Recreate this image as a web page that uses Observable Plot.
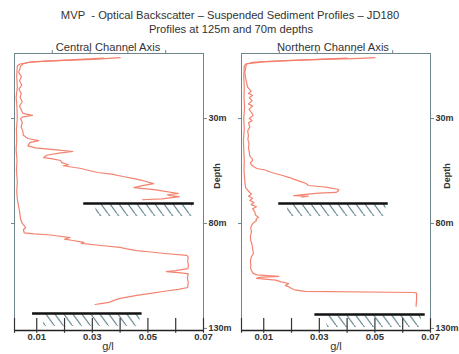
<!DOCTYPE html>
<html>
<head>
<meta charset="utf-8">
<script src="https://cdn.jsdelivr.net/npm/d3@7"></script>
<script src="https://cdn.jsdelivr.net/npm/@observablehq/plot@0.6"></script>
<style>
  html, body { margin: 0; padding: 0; background: #fff; }
  #wrap { position: relative; width: 459px; height: 354px; overflow: hidden; font-family: "Liberation Sans", Arial, sans-serif; color: #333; }
  .t { position: absolute; white-space: nowrap; transform: translate(-50%, -50%); font-size: 11.2px; }
  .depth { position: absolute; white-space: nowrap; font-size: 9px; font-weight: bold; transform: translate(-50%, -50%) rotate(-90deg); }
  .panel { position: absolute; top: 40px; }
</style>
</head>
<body>
<div id="wrap">
  <div class="t" style="left:230px;top:15px;">MVP&nbsp; - Optical Backscatter – Suspended Sediment Profiles – JD180</div>
  <div class="t" style="left:231px;top:29px;">Profiles at 125m and 70m depths</div>
  <div class="t" style="left:108px;top:47px;">Central Channel Axis</div>
  <div class="t" style="left:333px;top:47px;">Northern Channel Axis</div>
  <div class="depth" style="left:217px;top:176px;">Depth</div>
  <div class="depth" style="left:447px;top:176px;">Depth</div>
  <div class="t" style="left:108px;top:346px;font-size:11px;">g/l</div>
  <div class="t" style="left:336px;top:346px;font-size:11px;">g/l</div>
  <div id="p1" class="panel" style="left:0px;"></div>
  <div id="p2" class="panel" style="left:228px;"></div>
</div>
<script>
// ---- data: [depth (m), concentration (g/l)] ----
const centralProfile70 = [
  [1.0,0.040],[1.3,0.036],[1.8,0.030],[2.3,0.020],[2.8,0.012],[3.3,0.007],[4,0.005],[5,0.0042],
  [6,0.004],[8,0.0035],[10,0.0045],[12,0.0038],[14,0.0046],[16,0.0036],[18,0.0044],[20,0.004],
  [22,0.0048],[24,0.0038],[26,0.0045],[27.5,0.005],[28.5,0.0085],[29.2,0.005],[30,0.0042],[32,0.0048],
  [34,0.0044],[36,0.005],[38,0.0052],[39.5,0.0068],[40.5,0.0107],[41.5,0.0075],[43,0.0068],[44,0.0095],
  [45,0.018],[45.7,0.023],[46.5,0.018],[47.5,0.0135],[48.6,0.0125],[49.2,0.0157],[50,0.0186],[51,0.019],
  [52,0.0215],[52.5,0.0195],[53.8,0.026],[54.5,0.028],[55.7,0.032],[56.5,0.037],[57.6,0.041],[58.6,0.045],
  [59.5,0.048],[61,0.052],[62,0.048],[62.9,0.045],[64,0.053],[64.5,0.055],[65.7,0.061],[66.3,0.057],
  [66.7,0.058],[67.2,0.0613],[67.8,0.058],[68.3,0.055],[68.7,0.048]
];
const centralProfile125 = [
  [1.2,0.034],[2,0.022],[3,0.008],[4,0.004],[5,0.003],[10,0.0028],[15,0.003],[20,0.0026],[25,0.0029],
  [30,0.003],[35,0.0027],[40,0.0028],[45,0.0026],[50,0.0029],[55,0.0027],[60,0.003],[65,0.0028],
  [68,0.003],[70,0.0032],[72,0.0035],[74,0.0038],[76,0.004],[78,0.0042],[80,0.0048],[81.9,0.006],
  [83,0.0052],[84.5,0.0055],[85,0.009],[85.5,0.015],[86.7,0.022],[87.5,0.020],[88,0.0225],[89,0.027],
  [89.5,0.026],[90.5,0.033],[91.4,0.040],[92,0.042],[92.9,0.046],[93.6,0.051],[94.3,0.056],[95.2,0.064],
  [96,0.0645],[98,0.0643],[100,0.0646],[101.5,0.0644],[102.5,0.060],[102.9,0.0566],[103.5,0.062],
  [104,0.0645],[106,0.0642],[108,0.0645],[110.5,0.0643],[111.4,0.061],[112.3,0.056],[113.3,0.051],
  [114.3,0.046],[115,0.043],[115.7,0.040],[116.5,0.038],[117.6,0.036],[118.2,0.033],[118.6,0.031]
];
const northernProfile70 = [
  [1.0,0.050],[1.3,0.045],[1.7,0.035],[2.2,0.022],[2.7,0.012],[3.2,0.006],[4,0.0038],
  [5,0.0036],[8,0.0032],[10,0.0034],[12,0.0037],[15,0.0042],[17,0.0055],[18,0.0045],[19,0.006],
  [20,0.0048],[21.5,0.0058],[23,0.0045],[24,0.006],[25.5,0.0047],[27,0.0055],[28.5,0.0062],[30,0.0048],
  [31,0.0058],[32,0.0045],[34,0.005],[36,0.0042],[38,0.0045],[40,0.0043],[42,0.0047],[44,0.0045],
  [46,0.0048],[48,0.005],[49,0.0058],[50,0.006],[51,0.0052],[52,0.0055],[53,0.0065],[53.8,0.0075],
  [54.5,0.0105],[55.7,0.0128],[57,0.0165],[58,0.019],[59,0.021],[60.5,0.0244],[61.2,0.0255],[61.9,0.026],
  [62.5,0.031],[62.9,0.0334],[63.8,0.037],[64.5,0.0368],[65.2,0.036],[65.5,0.0298],[66,0.026],
  [66.7,0.0208],[67,0.026],[67.4,0.0237]
];
const northernProfile125 = [
  [1.2,0.040],[2,0.025],[3,0.010],[4,0.0035],[5,0.003],[10,0.0028],[15,0.003],[20,0.0029],[25,0.0031],
  [30,0.0028],[35,0.003],[40,0.0027],[45,0.0028],[50,0.003],[55,0.0029],[60,0.0032],[63,0.0035],
  [65,0.0048],[66,0.0056],[67,0.0045],[68,0.006],[69,0.005],[70,0.0065],[71,0.0055],[72,0.0074],
  [73,0.006],[74.5,0.0068],[76,0.007],[77,0.0081],[78,0.0072],[78.6,0.0074],[80,0.006],[81.9,0.0053],
  [84,0.0056],[86,0.0052],[88,0.0053],[90,0.0058],[92,0.006],[94.3,0.0063],[96,0.0055],[98,0.0052],
  [100,0.0054],[101,0.0052],[102.5,0.0056],[103.8,0.0062],[104.5,0.0075],[105.2,0.0154],[105.7,0.0085],
  [106.2,0.0074],[107,0.0143],[107.7,0.016],[108.6,0.019],[109.5,0.0178],[110.2,0.019],[111,0.020],
  [111.8,0.0215],[112.4,0.025],[112.9,0.064],[113.2,0.065],[116,0.065],[119.5,0.0648]
];
// seabed markers: depth, line extent, hatch extent (g/l units)
const centralSeabed = [
  {depth: 70.5, x1: 0.0269, x2: 0.0667, hx1: 0.0313, hx2: 0.0660},
  {depth: 122.9, x1: 0.0085, x2: 0.0479, hx1: 0.0125, hx2: 0.0472}
];
const northernSeabed = [
  {depth: 70.5, x1: 0.0154, x2: 0.0548, hx1: 0.0186, hx2: 0.0540},
  {depth: 123.4, x1: 0.0284, x2: 0.0681, hx1: 0.0327, hx2: 0.0667}
];
const xDomain = [0.002, 0.07];
const depthDomain = [-1, 131];
const xLabelTicks = [0.01, 0.03, 0.05, 0.07];
const xMinorTicks = [0.002, 0.02, 0.04, 0.06];
const topTicks = [0.0156, 0.0292, 0.0428, 0.0564];
const depthTicks = [30, 80, 130];
const leftDepthTicks = [30, 80];

const lineColor = "#f27c68";

function panel(profiles, seabed, marginLeft, width, id) {
  const svg = Plot.plot({
    width, height: 314,
    marginTop: 13, marginBottom: 24, marginLeft, marginRight: width - marginLeft - 189,
    style: {fontFamily: "Liberation Sans, Arial, sans-serif", fontSize: "10px", color: "#333", background: "transparent", overflow: "visible"},
    x: {domain: xDomain},
    y: {domain: depthDomain, reverse: true},
    marks: [
      Plot.frame({stroke: "#6f858c"}),
      Plot.rect(seabed, {x1: "hx1", x2: "hx2", y1: d => d.depth + 0.6, y2: d => d.depth + 6.2, fill: `url(#${id})`}),
      Plot.ruleY(seabed, {y: "depth", x1: "x1", x2: "x2", stroke: "#111", strokeWidth: 2.6}),
      ...profiles.map(p => Plot.line(p, {x: d => d[1], y: d => d[0], stroke: lineColor, strokeWidth: 1.2, strokeOpacity: 0.95})),
      Plot.ruleY([depthDomain[1]], {stroke: "#222", strokeWidth: 1.5}),
      Plot.ruleX(xLabelTicks.concat(xMinorTicks), {y1: 125.3, y2: 132.3, stroke: "#333", strokeWidth: 1.2}),
      Plot.axisX(xLabelTicks, {anchor: "bottom", tickSize: 0, tickPadding: 3, tickFormat: d => d.toFixed(2), fontWeight: "bold", fontSize: 9.5, label: null}),
      Plot.axisX(topTicks, {anchor: "top", tickSize: 4, tickFormat: () => "", stroke: "#6f858c", label: null}),
      Plot.axisY(depthTicks, {anchor: "right", tickSize: 3, tickPadding: 2, tickFormat: d => d + "m", fontWeight: "bold", fontSize: 9, stroke: "#6f858c", label: null}),
      Plot.axisY(leftDepthTicks, {anchor: "left", tickSize: 3, tickFormat: () => "", stroke: "#6f858c", label: null})
    ]
  });
  const ns = "http://www.w3.org/2000/svg";
  const defs = document.createElementNS(ns, "defs");
  defs.innerHTML = `<pattern id="${id}" patternUnits="userSpaceOnUse" width="9" height="12.4"><path d="M0,0L9,12.4M-1,-1.38L1,1.38M8,11.02L10,13.78" stroke="#5a7e8b" stroke-width="1.1" fill="none"/></pattern>`;
  svg.insertBefore(defs, svg.firstChild);
  return svg;
}

document.getElementById("p1").appendChild(panel([centralProfile70, centralProfile125], centralSeabed, 14, 230, "hatchC"));
document.getElementById("p2").appendChild(panel([northernProfile70, northernProfile125], northernSeabed, 13, 231, "hatchN"));
</script>
</body>
</html>
